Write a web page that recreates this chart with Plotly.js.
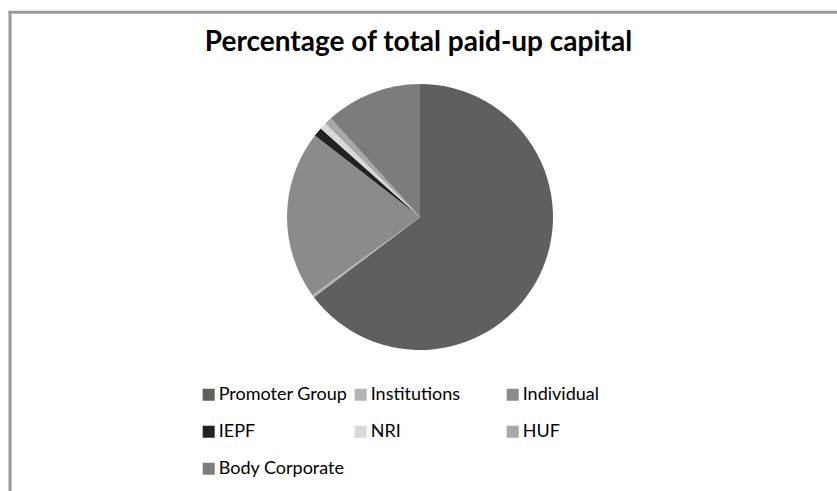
<!DOCTYPE html>
<html>
<head>
<meta charset="utf-8">
<script src="https://cdn.plot.ly/plotly-3.0.1.min.js"></script>
<style>
html,body{margin:0;padding:0;background:#fff;}
#chart{width:837px;height:491px;}
#chart .legendtext{transform:translateX(-10px);}
</style>
</head>
<body>
<div id="chart"></div>
<script>
const categories = ["Promoter Group", "Institutions", "Individual", "IEPF", "NRI", "HUF", "Body Corporate"];
const percentages = [64.7, 0.3, 20.5, 1.1, 0.8, 0.9, 11.7];
const sliceColors = ["#5f5f5f", "#b3b3b3", "#8b8b8b", "#222222", "#d9d9d9", "#a8a8a8", "#7c7c7c"];
const chartTitle = "Percentage of total paid-up capital";

const legendLabels = categories.map(c => '<span style="font-size:18px">' + c + '</span><br> ');

const trace = {
  type: 'pie',
  labels: legendLabels,
  values: percentages,
  marker: {colors: sliceColors, line: {width: 0}},
  sort: false,
  direction: 'clockwise',
  rotation: 0,
  textinfo: 'none',
  hoverinfo: 'skip'
};

const layout = {
  width: 837, height: 491,
  margin: {l: 160, r: 157, t: 84, b: 141},
  paper_bgcolor: '#ffffff',
  font: {family: 'Lato, sans-serif', color: '#000000'},
  title: {text: '<b>' + chartTitle + '</b>', font: {size: 28, family: 'Lato, sans-serif', color: '#000'},
          x: 0.5, xref: 'container', xanchor: 'center', y: 1 - 41/491, yref: 'container', yanchor: 'middle'},
  showlegend: true,
  legend: {orientation: 'h', xref: 'container', yref: 'container', x: 188.7/837, xanchor: 'left',
           y: 1 - 379.7/491, yanchor: 'top', entrywidth: 107, entrywidthmode: 'pixels',
           valign: 'top', font: {size: 13.1, color: '#000'}, traceorder: 'normal'},
  shapes: [
    {type: 'line', xref: 'paper', yref: 'paper', x0: (8.5-160)/520, x1: (840-160)/520, y0: (350-12.3)/266, y1: (350-12.3)/266,
     line: {color: '#9a9a9a', width: 3}},
    {type: 'line', xref: 'paper', yref: 'paper', x0: (10-160)/520, x1: (10-160)/520, y0: (350-10.8)/266, y1: (350-495)/266,
     line: {color: '#9a9a9a', width: 3}}
  ]
};

Plotly.newPlot('chart', [trace], layout, {staticPlot: true, displayModeBar: false});
</script>
</body>
</html>
